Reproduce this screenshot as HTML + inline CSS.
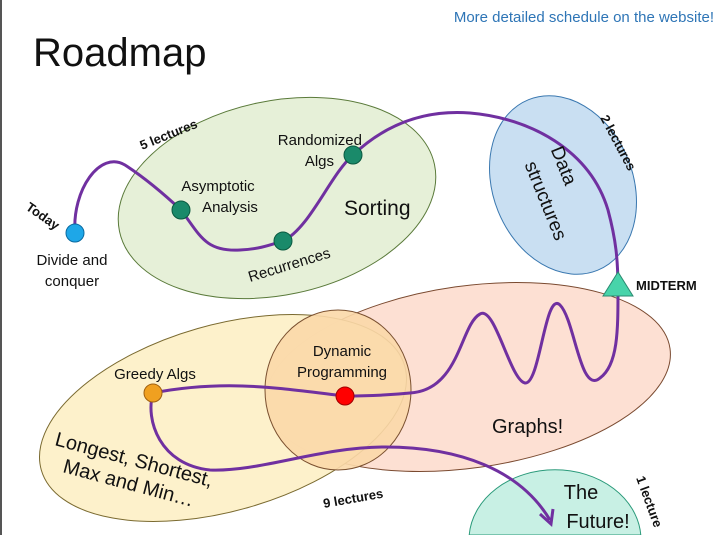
<!DOCTYPE html>
<html><head><meta charset="utf-8"><style>
html,body{margin:0;padding:0;background:#fff;width:722px;height:535px;overflow:hidden;}
svg{display:block;font-family:"Liberation Sans",sans-serif;overflow:hidden;}
</style></head><body>
<svg width="722" height="535" viewBox="0 0 722 535">
<rect x="0" y="0" width="2" height="535" fill="#555"/>
<text x="714" y="22" text-anchor="end" font-size="15" fill="#2e75b6">More detailed schedule on the website!</text>
<text x="33" y="66" font-size="40" fill="#111">Roadmap</text>

<ellipse cx="277" cy="198" rx="161" ry="97" transform="rotate(-12 277 198)" fill="#e6f0d8" stroke="#5a7a3a" stroke-width="1"/>
<ellipse cx="563" cy="185" rx="92" ry="70" transform="rotate(68 563 185)" fill="#c9dff2" stroke="#3a78b0" stroke-width="1"/>
<path d="M469.2,535 A86,70 0 0 1 640.8,535 Z" fill="#c8f0e4" stroke="#2a9a7a" stroke-width="1"/>
<ellipse cx="468" cy="377" rx="204" ry="91" transform="rotate(-8 468 377)" fill="#fde0d3" stroke="#7a4a30" stroke-width="1"/>
<ellipse cx="223" cy="418" rx="189" ry="93" transform="rotate(-16 223 418)" fill="#fdf0c8" fill-opacity="0.95" stroke="#7a6a30" stroke-width="1"/>
<ellipse cx="338" cy="390" rx="73" ry="80" fill="#fbd8a8" fill-opacity="0.9" stroke="#7a5030" stroke-width="1"/>

<path d="M75,233 C72,190 100,150 125,165 C145,178 165,195 181,210 C200,235 205,252 240,250 C260,249 270,245 283,241 C310,228 330,175 353,155 C390,120 430,110 470,113 C530,118 590,150 608,210 C616,240 618,260 618,290 C618,330 618,365 600,378 C580,395 575,320 560,305 C545,290 540,385 525,383 C510,380 495,305 480,314 C460,325 460,390 410,393 C380,396 360,396 345,396 C290,390 230,378 153,393 C145,420 160,465 210,470 C260,472 320,447 385,447 C460,447 520,470 550,520" fill="none" stroke="#7030a0" stroke-width="3"/>
<path d="M540,514 L551,524 L553,509" fill="none" stroke="#7030a0" stroke-width="3"/>

<polygon points="618,272 603,296 633,296" fill="#48d4aa" stroke="#2a8a70" stroke-width="1"/>
<circle cx="75" cy="233" r="9" fill="#1ea7e8" stroke="#0a6aa0"/>
<circle cx="181" cy="210" r="9" fill="#1a8a6a" stroke="#0a5a40"/>
<circle cx="283" cy="241" r="9" fill="#1a8a6a" stroke="#0a5a40"/>
<circle cx="353" cy="155" r="9" fill="#1a8a6a" stroke="#0a5a40"/>
<circle cx="153" cy="393" r="9" fill="#f0a020" stroke="#a06010"/>
<circle cx="345" cy="396" r="9" fill="#ff0000" stroke="#a00000"/>

<g font-size="15" fill="#111">
<text x="25" y="209" font-weight="bold" font-size="13" transform="rotate(35 25 209)">Today</text>
<text x="72" y="265" text-anchor="middle">Divide and</text>
<text x="72" y="286" text-anchor="middle">conquer</text>
<text x="142" y="150" font-weight="bold" font-size="13" transform="rotate(-22 142 150)">5 lectures</text>
<text x="218" y="191" text-anchor="middle">Asymptotic</text>
<text x="230" y="212" text-anchor="middle">Analysis</text>
<text x="362" y="145" text-anchor="end">Randomized</text>
<text x="334" y="166" text-anchor="end">Algs</text>
<text x="250" y="282" transform="rotate(-17 250 282)">Recurrences</text>
<text x="344" y="215" font-size="21">Sorting</text>
<text x="600" y="118" font-weight="bold" font-size="13" transform="rotate(62 600 118)">2 lectures</text>
<text x="558" y="168" font-size="19" text-anchor="middle" transform="rotate(68 558 168)">Data</text>
<text x="540" y="203" font-size="19" text-anchor="middle" transform="rotate(68 540 203)">structures</text>
<text x="636" y="290" font-weight="bold" font-size="13">MIDTERM</text>
<text x="342" y="356" text-anchor="middle">Dynamic</text>
<text x="342" y="377" text-anchor="middle">Programming</text>
<text x="155" y="379" text-anchor="middle">Greedy Algs</text>
<text x="492" y="433" font-size="20">Graphs!</text>
<text x="54" y="445" font-size="20" transform="rotate(15 54 445)">Longest, Shortest,</text>
<text x="62" y="472" font-size="20" transform="rotate(15 62 472)">Max and Min…</text>
<text x="324" y="508" font-weight="bold" font-size="13" transform="rotate(-10 324 508)">9 lectures</text>
<text x="581" y="499" font-size="20" text-anchor="middle">The</text>
<text x="598" y="528" font-size="20" text-anchor="middle">Future!</text>
<text x="636" y="478" font-weight="bold" font-size="13" transform="rotate(70 636 478)">1 lecture</text>
</g>
</svg>
</body></html>
